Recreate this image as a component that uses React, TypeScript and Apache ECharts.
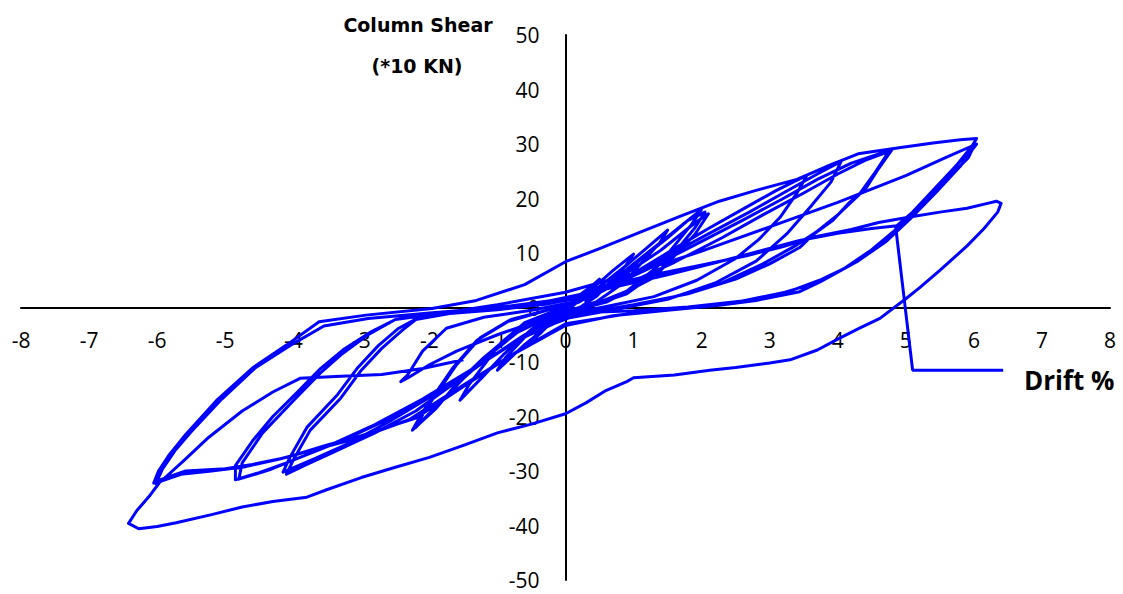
import React, { useEffect, useRef } from "react";
import * as echarts from "echarts";

// Tick values
const xTicks = { min: -8, max: 8, step: 1 };
const yTicks = { min: -50, max: 50, step: 10 };

// Hysteresis record: [drift %, column shear (*10 kN)], in test order
const smallCycles: number[][] = [
  [0, 0], [0.2, 2.2], [0.4, 4.1], [0.5, 5.2], [0.4, 3.4], [0.1, 0.2], [-0.15, -2], [-0.35, -4.5], [-0.5, -6.2],
  [-0.4, -4.4], [-0.1, -1], [0.1, 0.8], [0.4, 3.5], [0.7, 6.8], [1.0, 9.8], [0.88, 7.6], [0.45, 2], [0.15, -0.5],
  [-0.2, -2.8], [-0.6, -6.8], [-1.0, -11.5], [-0.88, -9.2], [-0.45, -3.5], [-0.15, -1], [0.2, 1.2], [0.5, 3.8],
  [0.9, 7.8], [1.2, 11], [1.5, 14.2], [1.38, 11.8], [0.85, 4.5], [0.45, 1], [0, -0.8], [-0.5, -4], [-0.9, -8.5],
  [-1.2, -12.5], [-1.55, -17], [-1.42, -14.2], [-0.95, -6.5], [-0.6, -2.8], [-0.2, -0.8], [0.2, 1], [0.6, 4],
  [1.0, 8], [1.4, 12], [1.7, 15], [2.0, 18], [1.85, 15.2], [1.35, 7.5], [0.9, 3], [0.4, 0.5], [-0.2, -1.5],
  [-0.7, -4.5], [-1.1, -8.5], [-1.5, -13], [-1.85, -17.5], [-2.2, -22], [-2.05, -18.6], [-1.6, -10.5],
  [-1.25, -5.5], [-0.8, -2.2], [-0.3, -0.6], [0.2, 1.2], [0.7, 4.6], [1.1, 8.8], [1.5, 12.8], [1.8, 16],
  [2.05, 17.5], [1.9, 14.6], [1.4, 7], [0.9, 2.5], [0.3, 0], [-0.3, -1.6], [-0.8, -5], [-1.2, -9.2], [-1.6, -14],
  [-1.9, -18.5], [-2.25, -22.5], [-2.1, -19.2], [-1.65, -11], [-1.3, -6], [-0.85, -2.6], [-0.35, -0.8],
  [0.2, 1.2], [0.8, 5.5], [1.4, 10.5], [1.9, 15.5], [2.1, 17.2], [1.9, 13.4], [1.3, 5.5], [0.6, 1], [-0.3, -2],
  [-1.0, -5], [-1.6, -8], [-2.0, -10.5], [-2.3, -12.8], [-2.42, -13.6], [-2.32, -12.4], [-2.1, -8],
  [-1.75, -3.8], [-1.2, -1.8], [-0.5, -0.5], [0.2, 1.2],
];

const cycleA: number[][] = [
  [0.6, 3.5], [1.1, 7], [1.6, 10.8], [2.1, 14.5], [2.6, 18], [3.1, 21.5], [3.55, 24.3], [3.4, 21], [3.15, 16.5],
  [2.85, 12.6], [2.5, 9], [1.93, 5], [1.3, 2], [0.6, 0.2], [0, -1.3], [-0.6, -5], [-1.2, -10], [-1.7, -14.5],
  [-2.2, -19], [-2.8, -23], [-3.4, -26.5], [-3.8, -28.8], [-4.1, -30.6], [-4.0, -28], [-3.75, -22.5],
  [-3.3, -16.6], [-3.0, -11.5], [-2.7, -7.5], [-2.4, -4.2], [-2.2, -2.2], [-1.7, -1.1], [-1.0, -0.4],
  [-0.3, 0.6], [0.3, 2],
];

const cycleB: number[][] = [
  [0.9, 5.5], [1.5, 9.5], [2.1, 13.5], [2.7, 17.5], [3.2, 21], [3.7, 24.5], [4.05, 26.8], [3.9, 23], [3.6, 18.5],
  [3.25, 13.5], [2.8, 8.5], [2.2, 4.5], [1.5, 1.5], [0.7, -0.4], [0, -2], [-0.7, -6], [-1.4, -11.5], [-2.0, -16.5],
  [-2.6, -21], [-3.2, -25], [-3.7, -27.8], [-4.15, -30.2], [-4.05, -27.5], [-3.8, -22], [-3.35, -16],
  [-3.05, -11], [-2.75, -7], [-2.45, -3.8], [-2.15, -1.8], [-1.5, -0.8], [-0.8, 0], [0, 1.5],
];

const cycleC1: number[][] = [
  [0.6, 3.5], [1.2, 7], [1.9, 11.5], [2.6, 16], [3.2, 20], [3.7, 23.5], [4.2, 26.5], [4.8, 29], [4.6, 25.5],
  [4.42, 22], [4.15, 19], [3.93, 16], [3.65, 13.5], [3.44, 11], [3.0, 8], [2.5, 5.2], [1.8, 2.5], [1.0, 0.5],
  [0.2, -1.2], [-0.5, -4.5], [-1.2, -10], [-1.9, -15.5], [-2.6, -20.5], [-3.3, -24.5], [-3.9, -27.5],
  [-4.35, -29.8], [-4.8, -31.5], [-4.75, -28.5], [-4.45, -23], [-3.96, -16.6], [-3.6, -12], [-3.3, -8.7],
  [-2.9, -5], [-2.5, -2.2], [-2.0, -1.2], [-1.2, -0.3], [-0.4, 0.8], [0.3, 2.6],
];

const cycleC2: number[][] = [
  [0.9, 4.3], [1.6, 8.3], [2.3, 12.8], [2.9, 17], [3.5, 21], [4.0, 24.5], [4.4, 27], [4.75, 28.6], [4.55, 24.8],
  [4.3, 20.5], [4.0, 17], [3.7, 14], [3.4, 11.5], [2.9, 8], [2.3, 4.5], [1.6, 2], [0.8, 0], [0, -1.8],
  [-0.7, -6], [-1.4, -11.5], [-2.1, -16.8], [-2.8, -21.5], [-3.5, -25.5], [-4.1, -28.5], [-4.5, -30.3],
  [-4.85, -31.6], [-4.85, -29], [-4.6, -24.5], [-4.3, -20], [-3.96, -15.8], [-3.6, -11.2], [-3.25, -7.6],
  [-2.85, -4.4], [-2.5, -2.2],
];

const cycle6a: number[][] = [
  [-1.8, -1], [-1.0, 0.5], [0, 2.8], [1.0, 6.3], [1.97, 10.2], [3.0, 14.8], [4.0, 19.3], [5.0, 24.2],
  [5.6, 27.6], [6.04, 30], [5.95, 28.5], [5.8, 25.9], [5.45, 21.2], [5.06, 16.2], [4.7, 12], [4.28, 8.4],
  [3.74, 4.7], [3.44, 2.9], [2.8, 1.3], [2.26, 0.4], [1.5, -0.5], [0.8, -1.4], [0, -3], [-0.7, -8],
  [-1.5, -14.5], [-2.2, -20.3], [-3.0, -23.5], [-3.5, -25.2], [-4.1, -27.5], [-4.6, -28.8], [-5.0, -29.6],
  [-5.58, -30], [-5.97, -31.7], [-6.05, -32.2],
];

const cycle6b: number[][] = [
  [-5.98, -30], [-5.82, -27], [-5.58, -23.3], [-5.13, -17.1], [-4.6, -11.1], [-4.1, -6.9], [-3.62, -2.6],
  [-2.93, -1.4], [-1.96, -0.2], [-1.31, 1.3], [-0.6, 4.2], [0, 8.4], [0.5, 10.8], [1.09, 13.8], [1.7, 16.8],
  [2.26, 19.5], [2.8, 21.5], [3.4, 23.5], [3.9, 26.2], [4.3, 28.2], [4.9, 29.3], [5.4, 30.2], [5.8, 30.8],
  [6.04, 31], [5.97, 29.6], [5.7, 25.4], [5.3, 20], [4.9, 14.8], [4.5, 10.6], [4.1, 7.2], [3.6, 4.2],
  [3.0, 2], [2.3, 0.6], [1.5, -0.3], [0.7, -1.5], [0, -3.3], [-0.8, -8.8], [-1.6, -15], [-2.3, -20.6],
  [-3.0, -23.8], [-3.6, -25.8], [-4.2, -27.8], [-4.7, -29.2], [-5.2, -30], [-5.65, -30.6], [-5.95, -31.9],
  [-6.02, -32.3],
];

const cycle6c: number[][] = [
  [-5.92, -29.6], [-5.74, -26.3], [-5.5, -22.8], [-5.05, -16.8], [-4.55, -11], [-4.05, -7], [-3.55, -3.4],
  [-2.9, -2], [-2.0, -1], [-1.0, 0], [0, 1.6], [0.8, 4], [1.5, 6], [2.2, 8.2], [2.9, 10.5], [3.44, 12.3],
  [4.0, 13.6], [4.5, 14.5], [4.87, 15], [5.1, 17.5], [5.4, 21.5], [5.7, 25.5], [6.0, 29.6], [5.92, 27.5],
  [5.6, 23.5], [5.2, 18.5], [4.8, 13.5], [4.35, 9], [3.9, 5.8], [3.3, 3], [2.6, 1.2], [1.8, 0.1], [1.0, -0.6],
  [0.3, -0.9],
];

const finalCycle: number[][] = [
  [0.3, 1.5], [0.8, 4.6], [1.4, 6.3], [1.97, 7.7], [2.66, 9.5], [3.2, 11.2], [3.63, 12.9], [4.2, 14.3],
  [4.6, 15.6], [5.06, 16.6], [5.5, 17.5], [5.9, 18.2], [6.2, 19.1], [6.33, 19.5], [6.4, 19.1], [6.35, 17.5],
  [6.15, 14.5], [5.9, 11.3], [5.5, 6.8], [5.2, 3.6], [5.0, 1.6], [4.62, -2], [4.32, -3.8], [4.0, -5.8],
  [3.7, -7.8], [3.3, -9.6], [3.0, -10.2], [2.5, -11.0], [2.12, -11.5], [1.6, -12.4], [1.0, -12.9],
  [0.9, -13.6], [0.6, -15.2], [0.3, -17.5], [0, -19.5], [-0.5, -21.4], [-1.0, -23], [-1.5, -25.3],
  [-2.0, -27.5], [-2.5, -29.3], [-3.0, -31.2], [-3.5, -33.4], [-3.8, -34.8], [-4.3, -35.6], [-4.75, -36.6],
  [-5.2, -38], [-5.72, -39.5], [-6.0, -40.2], [-6.27, -40.6], [-6.42, -39.6], [-6.3, -37.3], [-6.1, -34.4],
  [-5.97, -32.2], [-5.6, -28], [-5.24, -23.8], [-4.75, -19], [-4.3, -15.5], [-3.9, -13], [-3.3, -12.6],
  [-2.7, -12.3], [-2.1, -11.2], [-1.5, -9.6],
];

// Leader line pointing to the x-axis title
const leaderLine: number[][] = [[4.85, 14.9], [5.1, -11.5], [6.43, -11.5]];

const yTitleLines = ["Column Shear", "(*10 KN)"];
const xTitle = "Drift %";

const BLUE = "#0000ff";
const W = 1123;
const H = 594;
const GRID = { left: 21, right: 13, top: 35, bottom: 14 };

export default function App() {
  const ref = useRef<HTMLDivElement>(null);
  useEffect(() => {
    if (!ref.current) return;
    const chart = echarts.init(ref.current, undefined, { renderer: "svg" });
    const curve = [
      ...smallCycles, ...cycleA, ...cycleB, ...cycleC1, ...cycleC2,
      ...cycle6a, ...cycle6b, ...cycle6c, ...finalCycle,
    ];
    const plotW = W - GRID.left - GRID.right;
    const plotH = H - GRID.top - GRID.bottom;
    // place axes through the origin (labels travel with the axis line)
    const xOffset = -plotH * (0 - yTicks.min) / (yTicks.max - yTicks.min);
    const yOffset = -plotW * (0 - xTicks.min) / (xTicks.max - xTicks.min);
    const labelFont = { fontFamily: "'Open Sans', sans-serif", fontSize: 21, lineHeight: 20, color: "#000" };
    chart.setOption({
      animation: false,
      backgroundColor: "#fff",
      grid: { ...GRID, containLabel: false, outerBoundsMode: "none" },
      xAxis: {
        type: "value",
        position: "bottom",
        offset: xOffset,
        min: xTicks.min,
        max: xTicks.max,
        interval: xTicks.step,
        axisLine: { onZero: false, lineStyle: { color: "#000", width: 2 } },
        axisTick: { show: false },
        splitLine: { show: false },
        axisLabel: { ...labelFont, margin: 22 },
      },
      yAxis: {
        type: "value",
        position: "left",
        offset: yOffset,
        min: yTicks.min,
        max: yTicks.max,
        interval: yTicks.step,
        axisLine: { onZero: false, lineStyle: { color: "#000", width: 2 } },
        axisTick: { show: false },
        splitLine: { show: false },
        axisLabel: { ...labelFont, margin: 26 },
      },
      series: [
        {
          type: "line",
          data: curve,
          showSymbol: false,
          smooth: false,
          lineStyle: { color: BLUE, width: 3, join: "round" },
          z: 3,
        },
        {
          type: "line",
          data: leaderLine,
          showSymbol: false,
          lineStyle: { color: BLUE, width: 3 },
          z: 3,
        },
      ],
      graphic: [
        {
          type: "text",
          x: 418,
          y: 25,
          style: {
            text: yTitleLines[0],
            font: "bold 19px 'DejaVu Sans', sans-serif",
            fill: "#000",
            textAlign: "center",
            textVerticalAlign: "middle",
          },
        },
        {
          type: "text",
          x: 417,
          y: 66,
          style: {
            text: yTitleLines[1],
            font: "bold 19px 'DejaVu Sans', sans-serif",
            fill: "#000",
            textAlign: "center",
            textVerticalAlign: "middle",
          },
        },
        {
          type: "text",
          x: 1024,
          y: 380,
          style: {
            text: xTitle,
            font: "bold 26px 'Open Sans', sans-serif",
            fill: "#000",
            textAlign: "left",
            textVerticalAlign: "middle",
          },
        },
      ],
    });
    return () => chart.dispose();
  }, []);
  return (
    <div
      ref={ref}
      style={{ position: "absolute", left: 0, top: 0, width: W, height: H, background: "#fff" }}
    />
  );
}
